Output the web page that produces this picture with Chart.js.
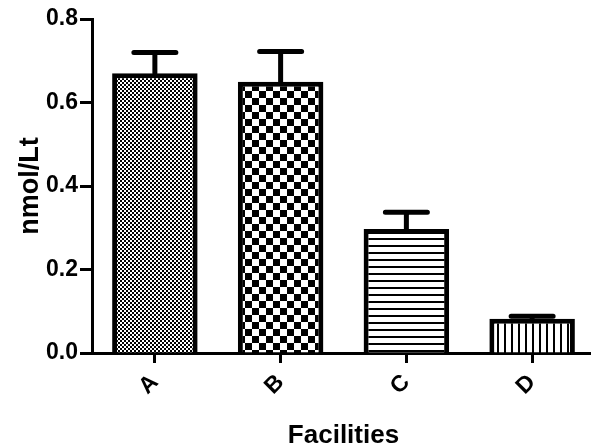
<!DOCTYPE html>
<html>
<head>
<meta charset="utf-8">
<script src="https://cdn.jsdelivr.net/npm/chart.js@4/dist/chart.umd.min.js"></script>
<style>
html,body{margin:0;padding:0;background:#fff;overflow:hidden;width:591px;height:448px;}
#wrap{position:relative;width:595px;height:448px;}
</style>
</head>
<body>
<div id="wrap"><canvas id="c" width="595" height="448"></canvas></div>
<script>
const categories = ["A", "B", "C", "D"];
const means = [0.670, 0.650, 0.297, 0.082];
const errors = [0.050, 0.072, 0.040, 0.006];
const yTicks = [0.0, 0.2, 0.4, 0.6, 0.8];
const yTitle = "nmol/Lt";
const xTitle = "Facilities";

function makePattern(kind) {
  const c = document.createElement('canvas');
  const x = c.getContext('2d');
  if (kind === 'fine') {
    c.width = 4; c.height = 4;
    x.fillStyle = '#fff'; x.fillRect(0, 0, 4, 4);
    x.fillStyle = '#000'; x.fillRect(0, 0, 2, 2); x.fillRect(2, 2, 2, 2);
    x.fillRect(1, 1, 1, 1);
  } else if (kind === 'coarse') {
    c.width = 14; c.height = 14;
    x.fillStyle = '#fff'; x.fillRect(0, 0, 14, 14);
    x.fillStyle = '#000'; x.fillRect(0, 0, 7, 7); x.fillRect(7, 7, 7, 7);
  } else if (kind === 'hlines') {
    c.width = 7; c.height = 7;
    x.fillStyle = '#fff'; x.fillRect(0, 0, 7, 7);
    x.fillStyle = '#000'; x.fillRect(0, 0, 7, 2);
  } else {
    c.width = 7; c.height = 7;
    x.fillStyle = '#fff'; x.fillRect(0, 0, 7, 7);
    x.fillStyle = '#000'; x.fillRect(0, 0, 2, 7);
  }
  return x.createPattern(c, 'repeat');
}
const patterns = [makePattern('fine'), makePattern('coarse'), makePattern('hlines'), makePattern('vlines')];

const errorBars = {
  id: 'errorBars',
  afterDatasetsDraw(chart) {
    const ctx = chart.ctx;
    const ys = chart.scales.y;
    const meta = chart.getDatasetMeta(0);
    ctx.save();
    ctx.strokeStyle = '#000';
    ctx.lineWidth = 5;
    ctx.lineCap = 'round';
    meta.data.forEach((bar, i) => {
      const top = ys.getPixelForValue(means[i]);
      const cap = ys.getPixelForValue(means[i] + errors[i]);
      ctx.beginPath();
      ctx.moveTo(bar.x, top);
      ctx.lineTo(bar.x, cap);
      ctx.moveTo(bar.x - 21, cap);
      ctx.lineTo(bar.x + 21, cap);
      ctx.stroke();
    });
    ctx.restore();
  }
};

const font = "'Liberation Sans', Arial, sans-serif";

new Chart(document.getElementById('c'), {
  type: 'bar',
  data: {
    labels: categories,
    datasets: [{
      data: means,
      backgroundColor: patterns,
      borderColor: '#000',
      borderWidth: 5,
      borderSkipped: 'start',
      categoryPercentage: 1.0,
      barPercentage: 0.68
    }]
  },
  options: {
    responsive: false,
    animation: false,
    devicePixelRatio: 1,
    layout: { padding: { top: 19, right: 0, left: 0, bottom: 0 } },
    plugins: { legend: { display: false }, tooltip: { enabled: false } },
    scales: {
      x: {
        afterFit(s) { s.height = 95; },
        grid: { display: true, offset: false, drawOnChartArea: false, drawTicks: true, tickLength: 10, tickWidth: 3, tickColor: '#000' },
        border: { display: true, width: 3, color: '#000' },
        ticks: { color: '#000', font: { family: font, size: 23, weight: 'bold' }, maxRotation: 45, minRotation: 45, padding: 6 },
        title: { display: true, text: xTitle, color: '#000', font: { family: font, size: 26, weight: 'bold' }, padding: { top: 0, bottom: -3 } }
      },
      y: {
        min: 0, max: 0.8,
        afterFit(s) { s.width = 92; },
        afterBuildTicks(s) { s.ticks = yTicks.map(v => ({ value: v })); },
        grid: { display: true, drawOnChartArea: false, drawTicks: true, tickLength: 12, tickWidth: 3, tickColor: '#000' },
        border: { display: true, width: 3, color: '#000' },
        ticks: { color: '#000', font: { family: font, size: 23, weight: 'bold' }, padding: 2, callback: v => Number(v).toFixed(1) },
        title: { display: true, text: yTitle, color: '#000', font: { family: font, size: 27, weight: 'bold' }, padding: { top: 14, bottom: 0 } }
      }
    }
  },
  plugins: [errorBars]
});
</script>
</body>
</html>
